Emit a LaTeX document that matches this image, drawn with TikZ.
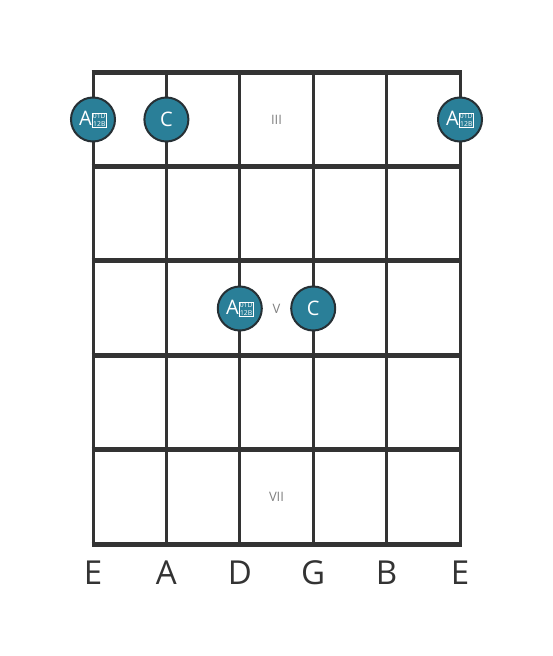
\documentclass[tikz,border=0pt]{standalone}
\usepackage{fontspec}
\setmainfont{Open Sans}
\usepackage{xcolor}
\usetikzlibrary{calc}
\definecolor{noteteal}{HTML}{2A7F98}
\definecolor{griddark}{HTML}{333333}
\definecolor{ringdark}{HTML}{263035}
\newcommand{\tofubox}{{\fontsize{6.8}{7.2}\selectfont\setlength{\fboxsep}{0.5pt}\setlength{\fboxrule}{0.6pt}\raisebox{-1pt}{\fbox{\shortstack{01D\\12B}}}}}
\tikzset{
    note/.style={circle, draw=ringdark, line width=2pt, fill=noteteal, minimum size=44pt, inner sep=0pt, text=white, font=\fontsize{20}{20}\selectfont},
    fretnum/.style={text=gray, font=\fontsize{13}{13}\selectfont},
    stringname/.style={text=griddark, font=\fontsize{33}{33}\selectfont}
}
\begin{document}
\begin{tikzpicture}[x=1pt, y=-1pt]
        \useasboundingbox (0,0) rectangle (553,656);
        %GARIS VERTIKAL (SENAR)
        \foreach \s in {0,...,5}
            \draw[griddark, line width=3pt] (93+73.4*\s,72) -- (93+73.4*\s,544);
        %GARIS HORIZONTAL (FRET)
        \foreach \f in {0,...,5}
            \draw[griddark, line width=5pt] (91.5,72+94.4*\f) -- (461.5,72+94.4*\f);
        %NOMOR FRET
        \node[fretnum] (fIII) at (276.5,120) {III};
        \node[fretnum] (fV) at (276.5,308.5) {V};
        \node[fretnum] (fVII) at (276.5,497) {VII};
        %NOT
        \node[note] (aa1) at (93,119.5) {A\tofubox};
        \node[note] (cc1) at (166.4,119.5) {C};
        \node[note] (aa6) at (460,119.5) {A\tofubox};
        \node[note] (aa3) at (239.8,308.5) {A\tofubox};
        \node[note] (cc4) at (313.2,308.5) {C};
        %NAMA SENAR
        \foreach \n [count=\i from 0] in {E,A,D,G,B,E}
            \node[stringname] (str\i) at (93+73.4*\i,573) {\n};
    \end{tikzpicture}
\end{document}
